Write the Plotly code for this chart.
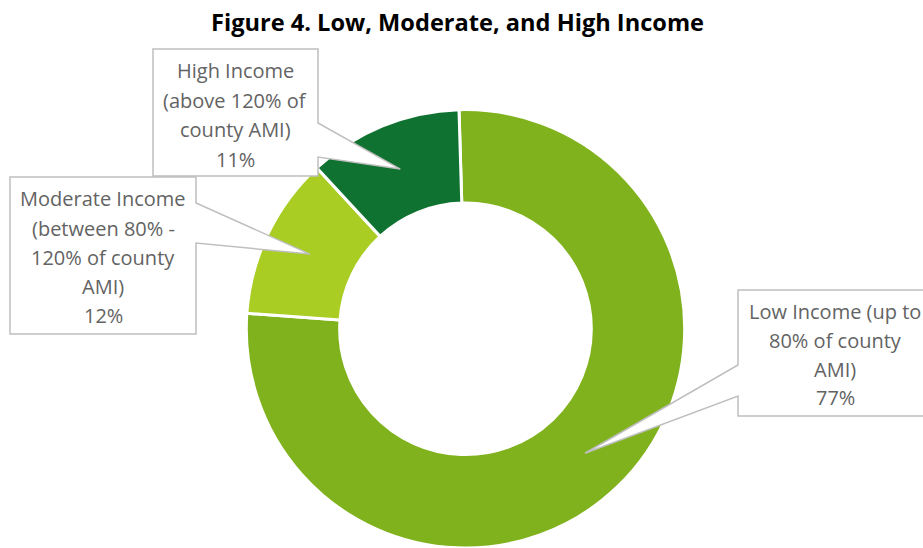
import math
import plotly.graph_objects as go

# ---------------- data ----------------
categories = [
    "Low Income (up to 80% of county AMI)",
    "Moderate Income (between 80% - 120% of county AMI)",
    "High Income (above 120% of county AMI)",
]
values = [76.6, 12.0, 11.4]
label_lines = [
    ["Low Income (up to", "80% of county", "AMI)"],
    ["Moderate Income", "(between 80% -", "120% of county", "AMI)"],
    ["High Income", "(above 120% of", "county AMI)"],
]
colors = ["#80B21E", "#A9CD23", "#107230"]
title_text = "Figure 4. Low, Moderate, and High Income"

# ---------------- layout constants (pixels) ----------------
W, H = 923, 548
ROTATION = -1.7
dom_x = [245 / W, 686 / W]
dom_y = [0.0, 0.8]
HOLE = 0.574

cx = (dom_x[0] + dom_x[1]) / 2 * W
dom_h = (dom_y[1] - dom_y[0]) * H
dom_w = (dom_x[1] - dom_x[0]) * W
R = min(dom_h, dom_w) / 2
cy = H - (dom_y[0] + dom_y[1]) / 2 * H
r_mid = R * (1 + HOLE) / 2

callouts = [
    dict(box=(738, 290, 932, 416), side="left", base=(365, 396), tx=835, ty=311, step=29.0),
    dict(box=(10, 177, 196, 334), side="right", base=(203, 243), tx=103, ty=199, step=29.2),
    dict(box=(153, 49, 318, 176), side="right", base=(123, 157), tx=235, ty=71, step=29.4),
]


def px(x):
    return x / W


def py(y):
    return 1 - y / H


fig = go.Figure(
    go.Pie(
        labels=categories,
        values=values,
        sort=False,
        direction="clockwise",
        rotation=ROTATION,
        hole=HOLE,
        marker=dict(colors=colors, line=dict(color="white", width=3)),
        textinfo="none",
        hoverinfo="label+percent",
        domain=dict(x=dom_x, y=dom_y),
        showlegend=False,
    )
)

total = sum(values)
shapes = []
annotations = []
cum = 0.0
for i, v in enumerate(values):
    mid = ROTATION + (cum + v / 2) / total * 360
    cum += v
    a = math.radians(mid)
    tipx = cx + r_mid * math.sin(a)
    tipy = cy - r_mid * math.cos(a)
    c = callouts[i]
    x0, y0, x1, y1 = c["box"]
    ya, yb = c["base"]
    if c["side"] == "right":
        pts = [(x0, y0), (x1, y0), (x1, ya), (tipx, tipy), (x1, yb), (x1, y1), (x0, y1)]
    else:
        pts = [(x0, y0), (x1, y0), (x1, y1), (x0, y1), (x0, yb), (tipx, tipy), (x0, ya)]
    path = "M " + " L ".join(f"{px(x):.5f},{py(y):.5f}" for x, y in pts) + " Z"
    shapes.append(
        dict(
            type="path",
            path=path,
            xref="paper",
            yref="paper",
            fillcolor="white",
            line=dict(color="#BFBFBF", width=1.5),
            layer="above",
        )
    )
    pct = f"{round(v / total * 100)}%"
    lines = label_lines[i] + [pct]
    for j, t in enumerate(lines):
        annotations.append(
            dict(
                text=t,
                x=px(c["tx"]),
                y=py(c["ty"] + j * c["step"]),
                xref="paper",
                yref="paper",
                xanchor="center",
                yanchor="middle",
                showarrow=False,
                font=dict(family="Open Sans", size=20, color="#636363"),
            )
        )

annotations.append(
    dict(
        text="<b>" + title_text + "</b>",
        x=px(457),
        y=py(22),
        xref="paper",
        yref="paper",
        xanchor="center",
        yanchor="middle",
        showarrow=False,
        font=dict(family="Open Sans", size=23.6, color="#000000"),
    )
)

fig.update_layout(
    width=W,
    height=H,
    margin=dict(l=0, r=0, t=0, b=0),
    paper_bgcolor="white",
    plot_bgcolor="white",
    shapes=shapes,
    annotations=annotations,
)

fig.write_html("out.html")
